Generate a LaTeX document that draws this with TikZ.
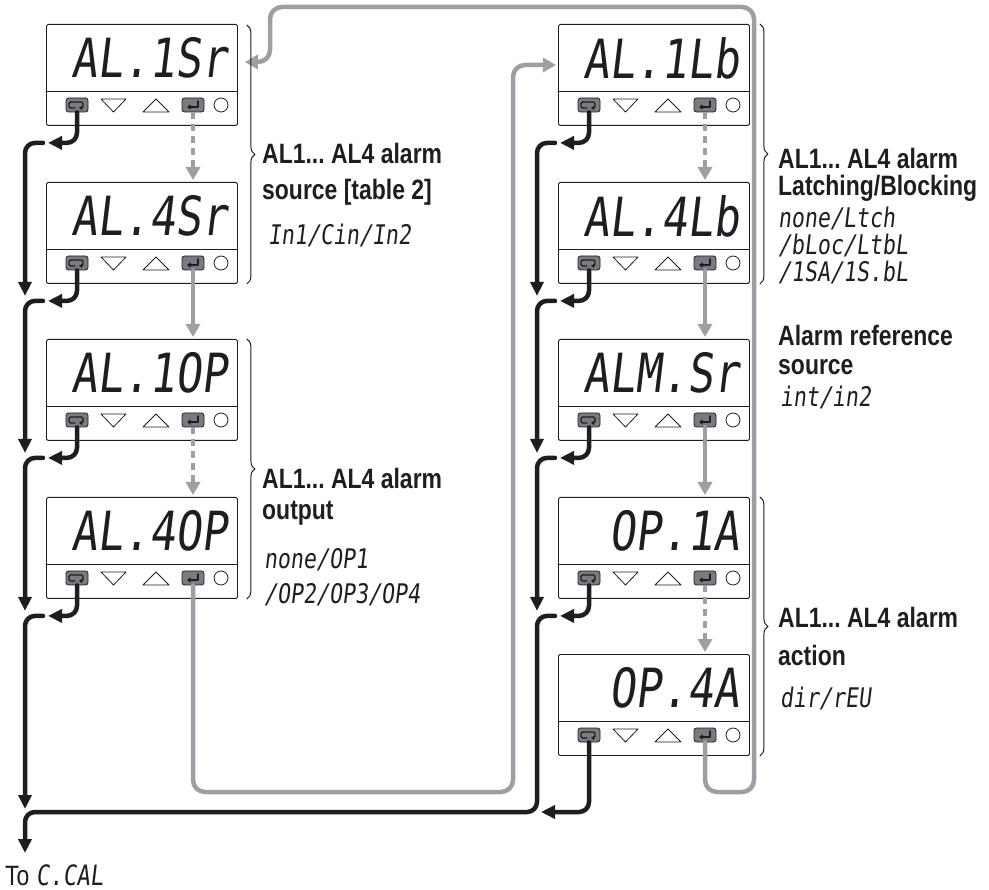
\documentclass[tikz,border=0pt]{standalone}
\usepackage{fontspec}
\newfontfamily\lblfont[FakeStretch=0.82]{Liberation Sans}
\newfontfamily\segfont[FakeSlant=0.12,FakeStretch=0.8]{DejaVu Sans Mono}
\usetikzlibrary{calc,arrows.meta,decorations.pathreplacing}
\definecolor{lgray}{RGB}{158,158,163}
\definecolor{kgray}{RGB}{122,122,128}
\definecolor{ink}{RGB}{30,30,34}
\frenchspacing

\begin{document}
\begin{tikzpicture}[x=1pt,y=-1pt,line join=round,line cap=round,
  panel/.style={draw=ink,line width=0.9pt,rounded corners=1.5pt,minimum width=191pt,minimum height=101pt,inner sep=0pt},
  keybtn/.style={draw=ink,fill=kgray,line width=0.8pt,rounded corners=2.5pt,minimum width=22pt,minimum height=14pt,inner sep=0pt},
  seg/.style={font=\segfont\fontsize{54}{54}\selectfont,text=ink,inner sep=0pt},
  opt/.style={font=\segfont\fontsize{27}{27}\selectfont,text=ink,anchor=west,inner sep=0pt},
  lbl/.style={font=\lblfont\bfseries\fontsize{28}{28}\selectfont,text=ink,anchor=west,inner sep=0pt},
  blk/.style={draw=ink,line width=4.5pt,rounded corners=10pt,-{Triangle[width=13pt,length=14pt]}},
  gline/.style={draw=lgray,line width=4.5pt,rounded corners=12pt,-{Triangle[width=14pt,length=13pt]}},
  gdash/.style={gline,dash pattern=on 7pt off 5pt,line cap=butt},
  brc/.style={draw=ink,line width=1pt,decorate,decoration={brace,amplitude=8pt}}]
\useasboundingbox (0,0) rectangle (989,890);
% panels
\foreach \n/\px/\py/\t in {p1/46/24/AL.1Sr,p2/46/182/AL.4Sr,p3/46/339/AL.1OP,p4/46/497/AL.4OP,q1/558/24/AL.1Lb,q2/558/182/AL.4Lb,q3/558/339/ALM.Sr,q4/558/497/OP.1A,q5/558/654/OP.4A}{
  \node[panel,anchor=north west] (\n) at (\px,\py) {};
  \draw[ink,line width=0.8pt] ($(\n.north west)+(0,67)$) -- ($(\n.north east)+(0,67)$);
  \node[seg,anchor=east] (\n-t) at ($(\n.north east)+(-10,34)$) {\t};
  \node[keybtn] (\n-s) at ($(\n.north west)+(31,81)$) {};
  \node[keybtn] (\n-e) at ($(\n.north west)+(147,81)$) {};
  \draw[ink,line width=0.8pt] ($(\n.north west)+(55,75)$) -- ++(25,0) -- ++(-12.5,13) -- cycle;
  \draw[ink,line width=0.8pt] ($(\n.north west)+(97,88)$) -- ++(26,0) -- ++(-13,-13) -- cycle;
  \draw[ink,line width=0.8pt] ($(\n.north west)+(175,81)$) circle[radius=7pt];
  \draw[ink,line width=1.4pt,rounded corners=1.5pt,-{Triangle[width=4pt,length=3pt]}] ($(\n-s)+(-2,3)$) -- ++(-6,0) -- ++(0,-6) -- ++(14,0) -- ++(0,6) -- ++(-4,0);
  \draw[ink,line width=1.4pt,-{Triangle[width=5pt,length=3.5pt]}] ($(\n-e)+(5,-4)$) -- ++(0,6) -- ++(-11,0);
  \coordinate (\n-j) at ($(\n.south west)+(2,17)$);
  \coordinate (\n-k) at ($(\n.south west)+(-3,17)$);
}
% enter key flow
\foreach \a/\b/\st in {p1/p2/gdash,p2/p3/gline,p3/p4/gdash,q1/q2/gdash,q2/q3/gline,q3/q4/gline,q4/q5/gdash}
  \draw[\st,shorten >=2pt] (\a-e.south) -- (\b.north -| \a-e);
\draw[gline] (p4-e.south) |- (513,792) |- ($(q1.north west)+(-2,41)$);
\draw[gline] (q5-e.south) |- (754,792) |- (270,7) |- ($(p1.north east)+(7,38)$);
% scroll key flow
\foreach \n in {p1,p2,p3,p4,q1,q2,q3,q4}
  \draw[blk] (\n-s.south) |- (\n-j);
\foreach \a/\b in {p1/p2,p2/p3,p3/p4,q1/q2,q2/q3,q3/q4}
  \draw[blk] (\a-k) -| ($(\b-k)+(-18,-5)$);
\coordinate (lb) at (25,812);
\coordinate (rb) at (537,812);
\coordinate (cal) at (25,853);
\draw[blk] (p4-k) -| ($(lb)+(0,-3)$);
\draw[blk] (q4-k) -| (rb) -- (lb) -- (cal);
\draw[blk] (q5-s.south) |- ($(rb)+(4,0)$);
\node[anchor=west,inner sep=0pt,text=ink] (tocal) at (5,875) {\lblfont\fontsize{28}{28}\selectfont To \segfont\fontsize{28}{28}\selectfont C.CAL};
% braces
\draw[brc] ($(p1.north east)+(9,1)$) -- ($(p2.south east)+(9,0)$);
\draw[brc] ($(p3.north east)+(9,0)$) -- ($(p4.south east)+(9,0)$);
\draw[brc] ($(q1.north east)+(10,0)$) -- ($(q2.south east)+(10,0)$);
\draw[brc] ($(q4.north east)+(10,0)$) -- ($(q5.south east)+(10,0)$);
% texts
\node[lbl] (s1a) at (262,153) {AL1... AL4 alarm};
\node[lbl] (s1b) at (262,192) {source [table 2]};
\node[opt] (s1c) at (268,235) {In1/Cin/In2};
\node[lbl] (o1a) at (262,478) {AL1... AL4 alarm};
\node[lbl] (o1b) at (262,513) {output};
\node[opt] (o1c) at (264,560) {none/OP1};
\node[opt] (o1d) at (264,595) {/OP2/OP3/OP4};
\node[lbl] (b1a) at (778,158) {AL1... AL4 alarm};
\node[lbl] (b1b) at (778,188) {Latching/Blocking};
\node[opt] (b1c) at (778,218) {none/Ltch};
\node[opt] (b1d) at (778,245) {/bLoc/LtbL};
\node[opt] (b1e) at (778,272) {/1SA/1S.bL};
\node[lbl] (r1a) at (778,335) {Alarm reference};
\node[lbl] (r1b) at (778,367) {source};
\node[opt] (r1c) at (780,397) {int/in2};
\node[lbl] (a1a) at (778,617) {AL1... AL4 alarm};
\node[lbl] (a1b) at (778,655) {action};
\node[opt] (a1c) at (780,698) {dir/rEU};
\end{tikzpicture}
\end{document}
